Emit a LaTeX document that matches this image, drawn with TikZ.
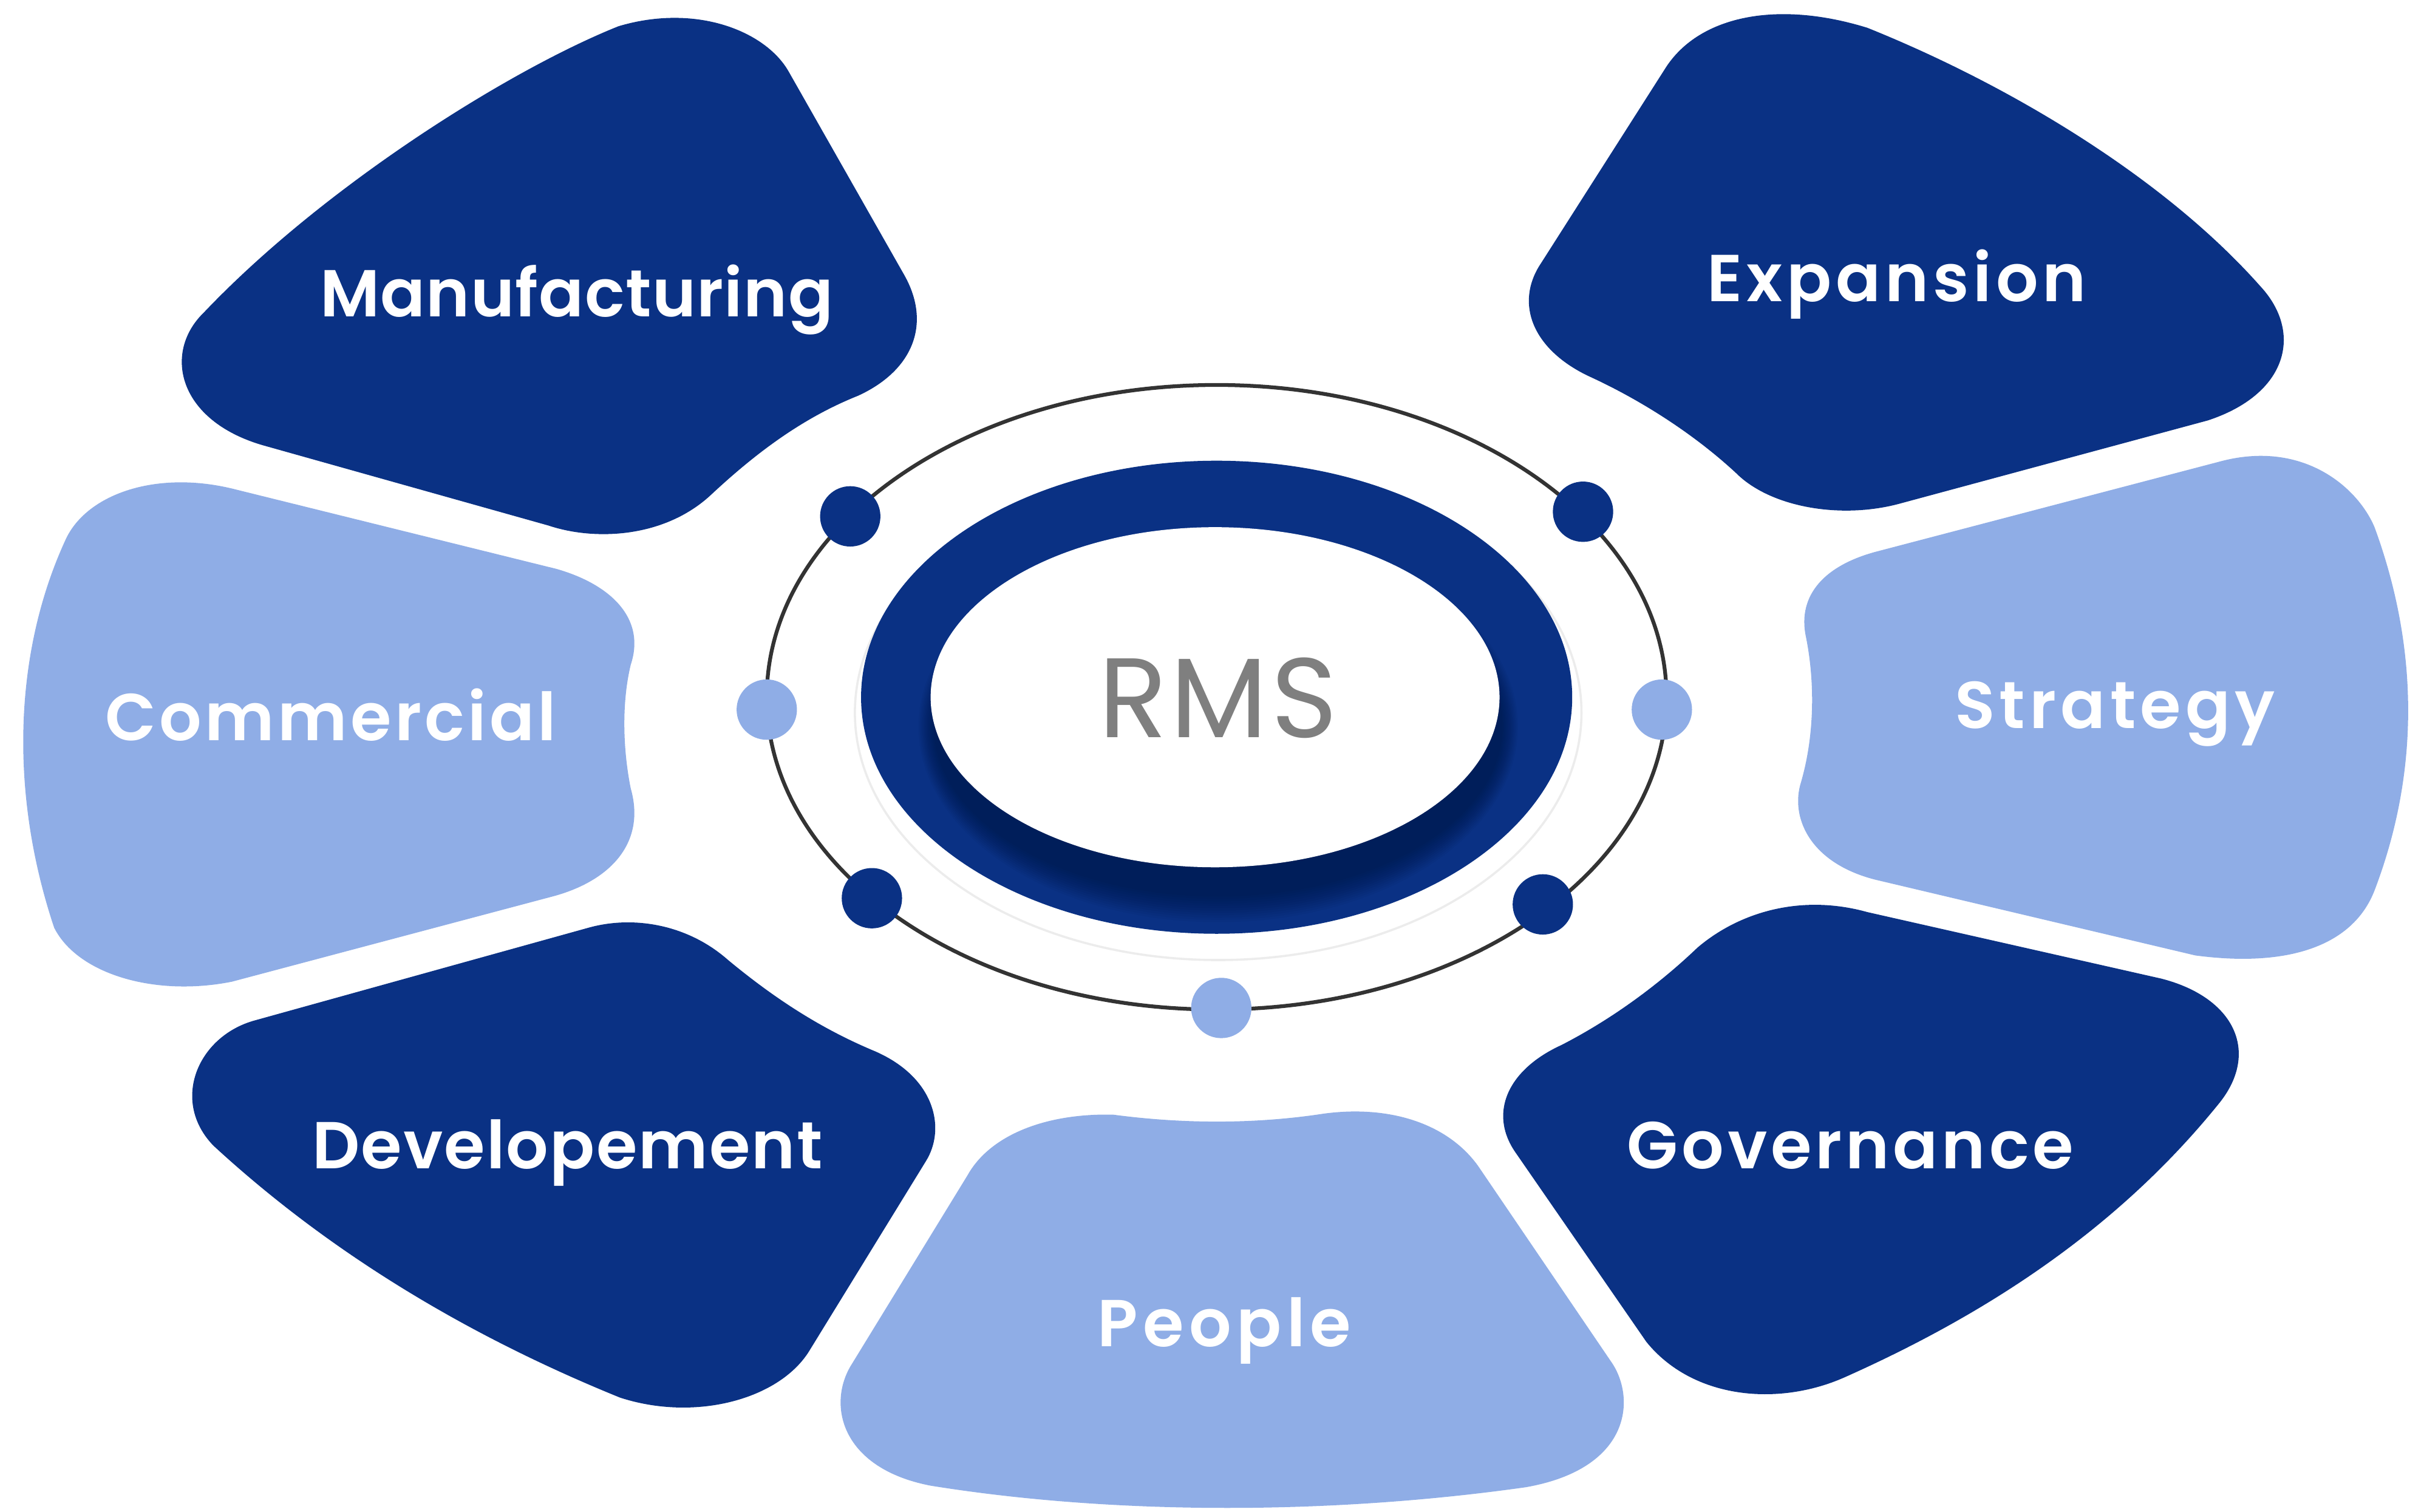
\documentclass[tikz,border=0pt]{standalone}
\usepackage{fontspec}
\setmainfont{Poppins}[BoldFont={Poppins SemiBold}]
\newfontfamily\lblfont{Poppins SemiBold}
\usetikzlibrary{positioning}
\definecolor{navy}{RGB}{10,49,132}
\definecolor{sky}{RGB}{143,173,230}
\definecolor{orbit}{RGB}{51,51,51}
\definecolor{rmsgray}{RGB}{127,127,127}
\tikzset{
  blob/.style = {fill=#1, draw=none},
  blob/.default = navy,
  dot/.style = {circle, fill=#1, minimum
      size=3.9mm, inner sep=0pt, outer sep=0pt},
  dot/.default = navy,
  ndot/.style = {dot=navy},
  sdot/.style = {dot=sky},
  lbl/.style = {text=white, anchor=base, inner sep=0pt,
      font=\fontsize{12.2}{14}\lblfont\addfontfeature{LetterSpace=#1}},
  lbl/.default = 4, % letter spacing of the labels
  orbitline/.style = {draw=orbit, line width=.7pt},
}

\begin{document}
\begin{tikzpicture}[x=0.01cm, y=-0.01cm]
  \useasboundingbox[fill=white] (0,0) rectangle (1568,978);

  % petals
  \fill[blob=navy] (132,202) .. controls (210,120) and (330,45) .. (400,17)
  .. controls (450,2) and (495,20) .. (510,46) -- (585,178)
  .. controls (603,210) and (590,240) .. (555,256)
  .. controls (520,270) and (490,292) .. (460,320)
  .. controls (430,348) and (385,350) .. (355,340) -- (170,288)
  .. controls (115,272) and (105,228) .. (132,202) -- cycle;

  \fill[blob=navy] (997,170) -- (1078,43)
  .. controls (1100,10) and (1150,0) .. (1208,18)
  .. controls (1300,55) and (1400,115) .. (1462,185)
  .. controls (1490,215) and (1480,255) .. (1428,272) -- (1228,326)
  .. controls (1190,336) and (1145,328) .. (1123,306)
  .. controls (1095,280) and (1060,258) .. (1027,243)
  .. controls (990,225) and (980,195) .. (997,170) -- cycle;

  \fill[blob=sky] (42,350) .. controls (55,320) and (100,304) .. (150,316) -- (360,368)
  .. controls (395,378) and (418,400) .. (408,430)
  .. controls (402,455) and (403,485) .. (408,510)
  .. controls (418,545) and (395,570) .. (357,580) -- (150,635)
  .. controls (100,645) and (50,630) .. (35,600)
  .. controls (5,510) and (10,420) .. (42,350) -- cycle;

  \fill[blob=sky] (1213,357) -- (1438,298)
  .. controls (1490,285) and (1525,315) .. (1536,341)
  .. controls (1565,420) and (1565,500) .. (1536,576)
  .. controls (1522,612) and (1480,626) .. (1420,618) -- (1213,569)
  .. controls (1170,558) and (1158,528) .. (1165,506)
  .. controls (1174,475) and (1174,440) .. (1168,411)
  .. controls (1163,385) and (1180,366) .. (1213,357) -- cycle;

  \fill[blob=navy] (165,660) -- (381,600)
  .. controls (410,592) and (445,598) .. (471,621)
  .. controls (500,645) and (530,665) .. (566,680)
  .. controls (605,697) and (612,730) .. (599,751) -- (524,873)
  .. controls (505,905) and (450,920) .. (401,904)
  .. controls (305,865) and (215,812) .. (138,741)
  .. controls (110,712) and (128,670) .. (165,660) -- cycle;

  \fill[blob=navy] (1098,613) .. controls (1125,590) and (1165,578) .. (1208,590) -- (1398,633)
  .. controls (1445,645) and (1462,680) .. (1436,713)
  .. controls (1370,795) and (1285,850) .. (1193,891)
  .. controls (1150,910) and (1095,905) .. (1065,868) -- (980,745)
  .. controls (963,720) and (975,692) .. (1010,676)
  .. controls (1045,658) and (1075,635) .. (1098,613) -- cycle;

  \fill[blob=sky] (626,760) .. controls (640,735) and (675,720) .. (720,721)
  .. controls (765,727) and (810,727) .. (852,721)
  .. controls (895,714) and (935,725) .. (956,754) -- (1043,882)
  .. controls (1058,905) and (1055,950) .. (987,962)
  .. controls (860,980) and (720,980) .. (602,961)
  .. controls (545,950) and (535,910) .. (550,884) -- cycle;

  % center
  \draw[orbitline] (787,451) ellipse (291 and 202);
  \draw[gray!15, line width=.4pt] (788,461) ellipse (235 and 160);
  \fill[navy] (787,451) ellipse (230 and 153);
  \foreach \k in {0,...,11}
    \fill[black, opacity=.028] (788,470) ellipse ({184+.9*\k} and {110+1.5*\k});
  \fill[white] (786,451) ellipse (184 and 110);
  \node[text=rmsgray, anchor=base, inner sep=0pt,
    font=\fontsize{20.8}{24}\selectfont\addfontfeature{LetterSpace=3}] (rms) at (788,477) {RMS};

  \node[ndot] (dtl) at (550,334) {};
  \node[ndot] (dtr) at (1024,331) {};
  \node[ndot] (dbl) at (564,581) {};
  \node[ndot] (dbr) at (998,585) {};
  \node[sdot] (dml) at (496,459) {};
  \node[sdot] (dmr) at (1075,459) {};
  \node[sdot] (dbm) at (790,652) {};

  \node[lbl=1.2] (manu) at (373,205) {Manufacturing};
  \node[lbl=6.3] (expa) at (1227,195) {Expansion};
  \node[lbl=4.9] (comm) at (214,479) {Commercial};
  \node[lbl=6.6] (stra) at (1368,471) {Strategy};
  \node[lbl=2] (deve) at (367,756) {Developement};
  \node[lbl=5.4] (gove) at (1197,756) {Governance};
  \node[lbl=7.8] (peop) at (792,871) {People};
\end{tikzpicture}
\end{document}
